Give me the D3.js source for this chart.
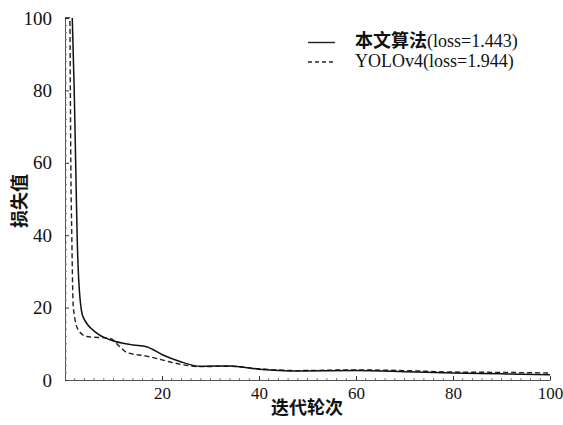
<!DOCTYPE html>
<html>
<head>
<meta charset="utf-8">
<script src="https://cdn.jsdelivr.net/npm/d3@7"></script>
<style>
  body { margin: 0; background: #fff; }
  svg text { font-family: "Liberation Serif", "DejaVu Serif", serif; fill: #111; }
  .cjk { font-family: "Noto Sans CJK SC", sans-serif; font-weight: bold; }
</style>
</head>
<body>
<svg id="chart" width="563" height="425"></svg>
<script>
// epochs and loss values
const oursEpoch = [1.5, 1.9, 2.2, 2.5, 2.9, 3.7, 6.5, 9.3, 14, 16.8, 20.2, 23.7, 27.8, 34, 40, 48, 60, 70, 80, 90, 100];
const oursLoss  = [100, 80, 60, 40, 26, 17.5, 13, 11.1, 9.7, 9.2, 6.9, 5.1, 3.8, 3.9, 3.0, 2.5, 2.6, 2.3, 1.9, 1.7, 1.443];

const yoloEpoch = [0, 1, 1.1, 1.2, 1.4, 1.7, 2.7, 4.5, 9.3, 11.3, 12.7, 16.8, 20.2, 24.3, 28, 34, 40, 48, 60, 70, 80, 90, 100];
const yoloLoss  = [100, 100, 80, 60, 40, 20.3, 13.9, 12, 11.5, 9.2, 7.6, 6.6, 5.5, 4.2, 3.7, 3.8, 3.1, 2.6, 2.8, 2.6, 2.2, 2.1, 1.944];

const xTicks = [20, 40, 60, 80, 100];
const yTicks = [0, 20, 40, 60, 80, 100];

const seriesNames = ["本文算法", "YOLOv4"];
const seriesLoss = ["1.443", "1.944"];

const svg = d3.select("#chart");

const x = d3.scaleLinear().domain([0, 100]).range([65, 550]);
const y = d3.scaleLinear().domain([0, 100]).range([380, 18]);

// axes with inward ticks
const xAxis = d3.axisBottom(x).tickValues(xTicks).tickSize(-4).tickPadding(7).tickSizeOuter(0);
const yAxis = d3.axisLeft(y).tickValues(yTicks).tickSize(-4).tickPadding(13).tickSizeOuter(0);

const gx = svg.append("g").attr("transform", `translate(0,${y(0)})`).call(xAxis);
const gy = svg.append("g").attr("transform", `translate(${x(0)},0)`).call(yAxis);

// minor ticks
gx.selectAll(".minor")
  .data(d3.range(2, 100, 2).filter(v => v % 20 !== 0))
  .enter().append("line")
  .attr("x1", d => x(d)).attr("x2", d => x(d))
  .attr("y1", 0).attr("y2", -2)
  .attr("stroke", "#777");
gy.selectAll(".minor")
  .data(d3.range(2, 100, 2).filter(v => v % 20 !== 0))
  .enter().append("line")
  .attr("y1", d => y(d)).attr("y2", d => y(d))
  .attr("x1", 0).attr("x2", 2)
  .attr("stroke", "#777");

[gx, gy].forEach(g => {
  g.select(".domain").attr("stroke", "#555");
  g.selectAll(".tick line").attr("stroke", "#333");
  g.selectAll(".tick text").attr("fill", "#111");
});
gx.selectAll(".tick text").style("font-size", "17px");
gy.selectAll(".tick text").style("font-size", "19px");

// curves
const line = d3.line().x(d => x(d[0])).y(d => y(d[1])).curve(d3.curveMonotoneX);

svg.append("path")
  .datum(yoloEpoch.map((e, i) => [e, yoloLoss[i]]))
  .attr("d", line)
  .attr("fill", "none")
  .attr("stroke", "#222")
  .attr("stroke-width", 1.4)
  .attr("stroke-dasharray", "5,3");

svg.append("path")
  .datum(oursEpoch.map((e, i) => [e, oursLoss[i]]))
  .attr("d", line)
  .attr("fill", "none")
  .attr("stroke", "#111")
  .attr("stroke-width", 1.5);

// legend
const legend = svg.append("g");
const rowY = [42.5, 62];
const baseY = [47, 67];
seriesNames.forEach((name, i) => {
  legend.append("line")
    .attr("x1", 308).attr("x2", 335)
    .attr("y1", rowY[i]).attr("y2", rowY[i])
    .attr("stroke", "#222")
    .attr("stroke-width", 1.4)
    .attr("stroke-dasharray", i === 1 ? "4,3" : null);
  const t = legend.append("text").attr("x", 355).attr("y", baseY[i]).style("font-size", "18px");
  if (i === 0) {
    t.append("tspan").attr("class", "cjk").style("font-size", "18px").text(name);
  } else {
    t.append("tspan").text(name);
  }
  t.append("tspan").text(`(loss=${seriesLoss[i]})`);
});

// axis titles
svg.append("text")
  .attr("class", "cjk")
  .attr("x", 307).attr("y", 414)
  .attr("text-anchor", "middle")
  .style("font-size", "18px")
  .text("迭代轮次");

svg.append("text")
  .attr("class", "cjk")
  .attr("transform", "translate(26,201) rotate(-90)")
  .attr("text-anchor", "middle")
  .style("font-size", "18px")
  .text("损失值");
</script>
</body>
</html>
